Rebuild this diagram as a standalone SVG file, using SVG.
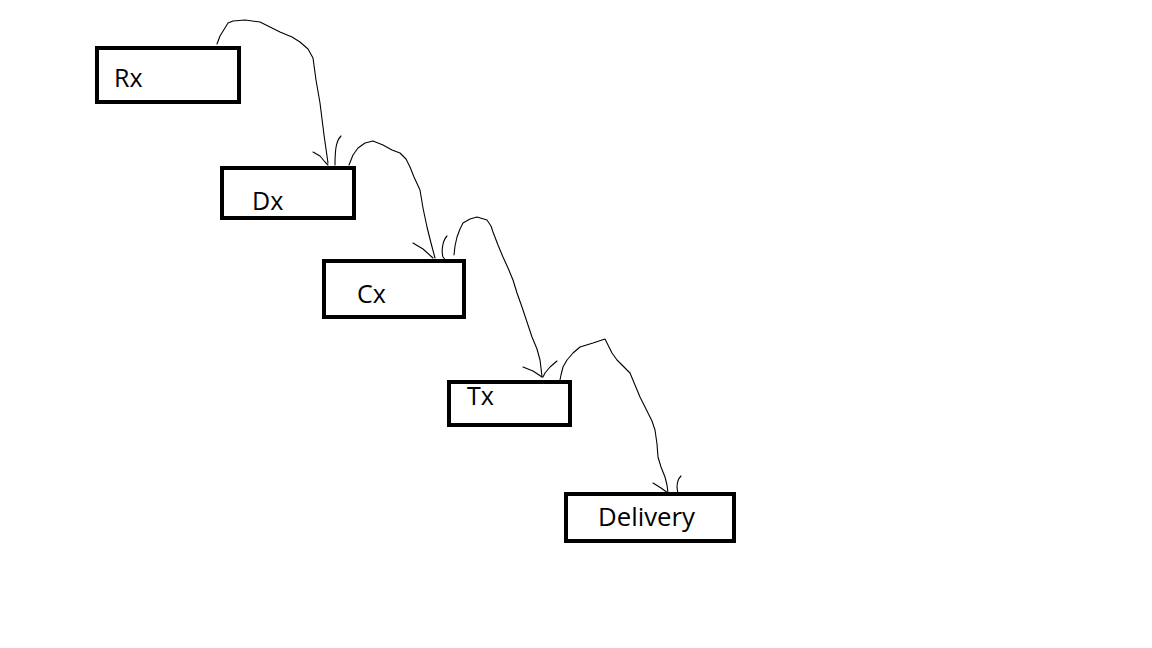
<svg xmlns="http://www.w3.org/2000/svg" width="1152" height="648" viewBox="0 0 1152 648">
<style>
.box{fill:#fff;stroke:#000;stroke-width:4}
.lbl{font-family:"Open Sans","Noto Sans",sans-serif;font-size:25px;fill:#000}
.c{fill:none;stroke:#000;stroke-width:1.1;stroke-linejoin:round;stroke-linecap:round}
</style>
<rect width="1152" height="648" fill="#fff"/>
<g id="connectors">
<polyline class="c" points="217,44 220,36 228,23 233,21 245,20 260,22 270,27 280,32 292,37 300,42 308,49 313,58 316,80 320,103 324,135 328,163"/>
<polyline class="c" points="313,152 320,156 325,162 328,165"/>
<path class="c" d="M341,136 C336,141 335,150 335,165"/>
<polyline class="c" points="349,165 353,155 358,148 365,143 373,141 383,145 392,150 400,153 406,159 410,167 414,177 420,190 423,208 427,227 431,243 435,258"/>
<polyline class="c" points="413,243 423,249 433,258"/>
<path class="c" d="M447,236 C443,240 441,250 443,257 L450,266"/>
<polyline class="c" points="454,255 455,246 457,237 460,229 463,223 470,219 477,217 487,220 491,226 493,232 498,245 503,257 508,268 513,280 517,293 522,307 527,322 532,337 537,349 540,360 541,368 542,377"/>
<polyline class="c" points="523,367 533,371 542,377"/>
<polyline class="c" points="557,361 550,367 545,373 543,377"/>
<polyline class="c" points="559,385 561,375 563,367 567,360 573,353 580,347 593,343 605,339 608,345 612,353 617,360 623,366 630,373 635,385 640,397 648,413 652,421 655,430 657,444 658,457 661,467 665,477 667,485 668,493"/>
<polyline class="c" points="653,483 661,488 668,493"/>
<path class="c" d="M681,476 C678,479 677,482 677,487 L679,503"/>
</g>
<g id="node-rx">
<rect class="box" x="97" y="48" width="142" height="54"/>
<text class="lbl" x="114" y="87">Rx</text>
</g>
<g id="node-dx">
<rect class="box" x="222" y="168" width="132" height="50"/>
<text class="lbl" x="252" y="210">Dx</text>
</g>
<g id="node-cx">
<rect class="box" x="324" y="261" width="140" height="56"/>
<text class="lbl" x="357" y="303">Cx</text>
</g>
<g id="node-tx">
<rect class="box" x="449" y="382" width="121" height="43"/>
<text class="lbl" x="467" y="405">Tx</text>
</g>
<g id="node-delivery">
<rect class="box" x="566" y="494" width="168" height="47"/>
<text class="lbl" x="598" y="526" textLength="97" lengthAdjust="spacingAndGlyphs">Delivery</text>
</g>
</svg>
